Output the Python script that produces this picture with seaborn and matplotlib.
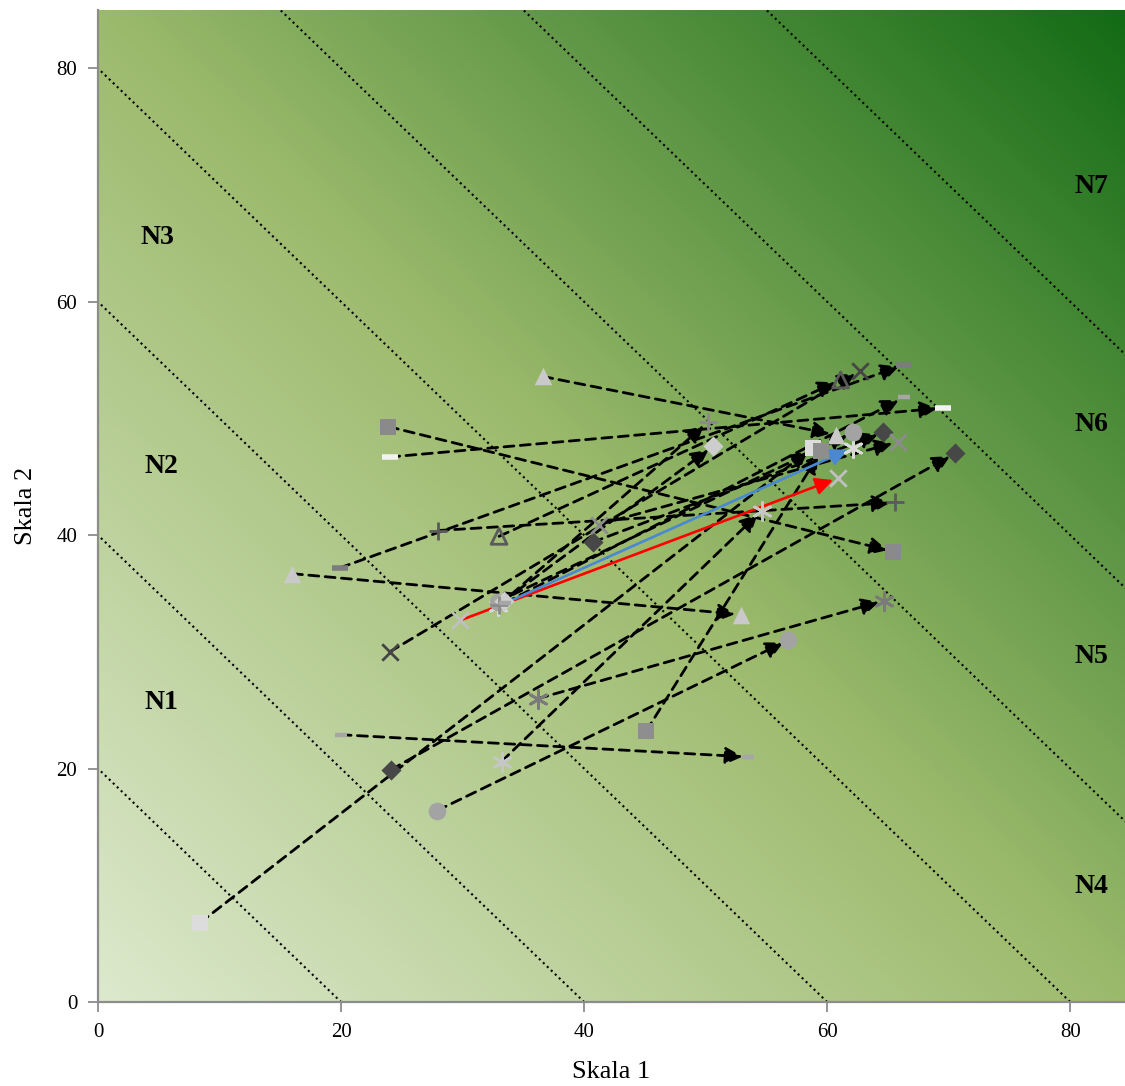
import numpy as np
import matplotlib
matplotlib.use("Agg")
import matplotlib.pyplot as plt
import seaborn as sns
from matplotlib.colors import LinearSegmentedColormap

# ---------------- data ----------------
x_ticks = [0, 20, 40, 60, 80]
y_ticks = [0, 20, 40, 60, 80]
zone_sums = [20, 40, 60, 80, 100, 120, 140]
zone_labels = ["N1", "N2", "N3", "N4", "N5", "N6", "N7"]
zone_label_x = [5.2, 5.2, 4.9, 81.7, 81.7, 81.7, 81.7]
zone_label_y = [25.7, 45.9, 65.5, 9.9, 29.6, 49.5, 69.9]

series_names = ["tri_l1", "tri_l2", "sq_g", "dash_w", "dash_g", "dash_s",
                "plus_d", "tri_o", "x_d", "x_l", "ast_l1", "circ_g",
                "ast_g", "ast_l2", "dia_d", "circ_g2", "sq_l", "sq_g2",
                "dia_d2", "x_g", "dia_l", "plus_g", "dash_s2"]
start_x = [16.0, 36.6, 23.9, 24.0, 19.9, 20.0, 28.0, 33.0, 24.0, 29.8, 32.9, 32.9,
           36.2, 33.2, 24.1, 27.9, 8.4, 45.1, 40.7, 41.2, 33.4, 33.0, 33.5]
start_y = [36.7, 53.6, 49.3, 46.7, 37.2, 22.9, 40.4, 39.9, 30.0, 32.7, 33.9, 34.3,
           26.0, 20.6, 19.9, 16.4, 6.8, 23.2, 39.4, 40.9, 34.4, 34.0, 34.2]
end_x = [52.9, 60.7, 65.4, 69.5, 66.3, 53.5, 65.6, 61.1, 62.7, 60.9, 62.1, 62.1,
         64.7, 54.6, 70.5, 56.8, 58.8, 59.5, 64.6, 65.8, 50.6, 50.2, 66.3]
end_y = [33.2, 48.6, 38.6, 50.9, 54.6, 21.0, 42.8, 53.3, 54.1, 44.9, 47.5, 48.8,
         34.4, 42.1, 47.0, 31.0, 47.5, 47.2, 48.8, 48.0, 47.6, 49.7, 51.8]

# ---------------- styles ----------------
series_marker = ["tri", "tri", "sq", "dash", "dash", "dash_s", "plus", "tri_open",
                 "x", "x", "ast", "circ", "ast", "ast", "dia", "circ", "sq", "sq",
                 "dia", "x", "dia", "plus", "dash_s"]
series_color = ["#c9c9c9", "#c9c9c9", "#8a8a8a", "#f2f2f2", "#7c7c7c", "#a6a6a6",
                "#5a5a5a", "#5a5a5a", "#454545", "#c0c0c0", "#dadada", "#a3a3a3",
                "#7a7a7a", "#c6c6c6", "#474747", "#a3a3a3", "#dcdcdc", "#8e8e8e",
                "#474747", "#8c8c8c", "#cdcdcd", "#8a8a8a", "#a6a6a6"]
line_color = ["black"] * len(series_names)
line_style = [(0, (3.6, 2.3))] * len(series_names)
line_width = [2.0] * len(series_names)
line_z = [3] * len(series_names)
i_red = series_names.index("x_l")
i_blue = series_names.index("ast_l1")
line_color[i_red] = "#ff0000"
line_color[i_blue] = "#4a88d2"
for i in (i_red, i_blue):
    line_style[i] = "-"
    line_width[i] = 1.9
    line_z[i] = 3.5

marker_spec = {
    "tri": dict(marker="^", s=160, lw=0, open=False),
    "tri_open": dict(marker="^", s=130, lw=2.0, open=True),
    "sq": dict(marker="s", s=140, lw=0, open=False),
    "dash": dict(marker="_", s=130, lw=4.0, open=None),
    "dash_s": dict(marker="_", s=70, lw=3.2, open=None),
    "plus": dict(marker="+", s=150, lw=2.0, open=None),
    "x": dict(marker="x", s=140, lw=2.0, open=None),
    "ast": dict(marker=(6, 2, 0), s=170, lw=2.0, open=None),
    "circ": dict(marker="o", s=160, lw=0, open=False),
    "dia": dict(marker="D", s=105, lw=0, open=False),
}

# ---------------- figure ----------------
sns.set_style("white")
plt.rcParams["font.family"] = ["Liberation Serif", "DejaVu Serif"]
plt.rcParams["text.color"] = "black"
plt.rcParams["axes.labelcolor"] = "black"

fig = plt.figure(figsize=(11.25, 10.86), dpi=100)
ax = fig.add_axes([98 / 1125, 84 / 1086, 1027 / 1125, 992 / 1086])
XMAX, YMAX = 84.5, 85.0
ax.set_xlim(0, XMAX)
ax.set_ylim(0, YMAX)

# background gradient
cmap = LinearSegmentedColormap.from_list(
    "bg", [(0.0, "#dde9cd"), (0.5, "#9cba6c"), (1.0, "#136b15")])
u = np.linspace(0, 1, 400)
U, V = np.meshgrid(u, u)
ax.imshow((U + V) / 2, cmap=cmap, origin="lower", extent=(0, XMAX, 0, YMAX),
          aspect="auto", interpolation="bilinear", zorder=0, vmin=0, vmax=1)

# dotted zone boundaries x + y = const
xs = np.array([-5.0, 150.0])
for c in zone_sums:
    ax.plot(xs, c - xs, linestyle=":", color="black", lw=1.5, zorder=1)

# zone labels
for lab, lx, ly in zip(zone_labels, zone_label_x, zone_label_y):
    ax.text(lx, ly, lab, fontsize=20, fontweight="bold", ha="center", va="center",
            color="black", zorder=6)

# arrows
for sx, sy, ex, ey, lc, ls, lw, z in zip(start_x, start_y, end_x, end_y,
                                         line_color, line_style, line_width, line_z):
    ax.annotate("", xy=(ex, ey), xytext=(sx, sy),
                arrowprops=dict(arrowstyle="-|>", color=lc, lw=lw, linestyle=ls,
                                shrinkA=0, shrinkB=4, mutation_scale=26),
                zorder=z)

# markers
for name, sx, sy, ex, ey, mk, col in zip(series_names, start_x, start_y, end_x, end_y,
                                         series_marker, series_color):
    spec = marker_spec[mk]
    kw = dict(x=[sx, ex], y=[sy, ey], marker=spec["marker"], s=spec["s"], ax=ax,
              zorder=5, legend=False)
    if spec["open"] is True:
        sns.scatterplot(color="none", edgecolor=col, linewidth=spec["lw"], **kw)
    elif spec["open"] is False:
        sns.scatterplot(color=col, edgecolor=col, linewidth=0, **kw)
    else:
        sns.scatterplot(color=col, linewidth=spec["lw"], **kw)

# axes styling
for side in ("top", "right"):
    ax.spines[side].set_visible(False)
for side in ("left", "bottom"):
    ax.spines[side].set_color("#8c8c8c")
    ax.spines[side].set_linewidth(1.6)
    ax.spines[side].set_zorder(7)
ax.set_xticks(x_ticks)
ax.set_yticks(y_ticks)
ax.tick_params(axis="both", direction="out", length=7, width=1.3, color="#8c8c8c",
               labelsize=15, labelcolor="black", pad=8)
ax.tick_params(left=True, bottom=True)
ax.set_xlabel("Skala 1", fontsize=19, labelpad=14, color="black")
ax.set_ylabel("Skala 2", fontsize=19, labelpad=14, color="black")
ax.grid(False)

fig.savefig("out.png", dpi=100)
